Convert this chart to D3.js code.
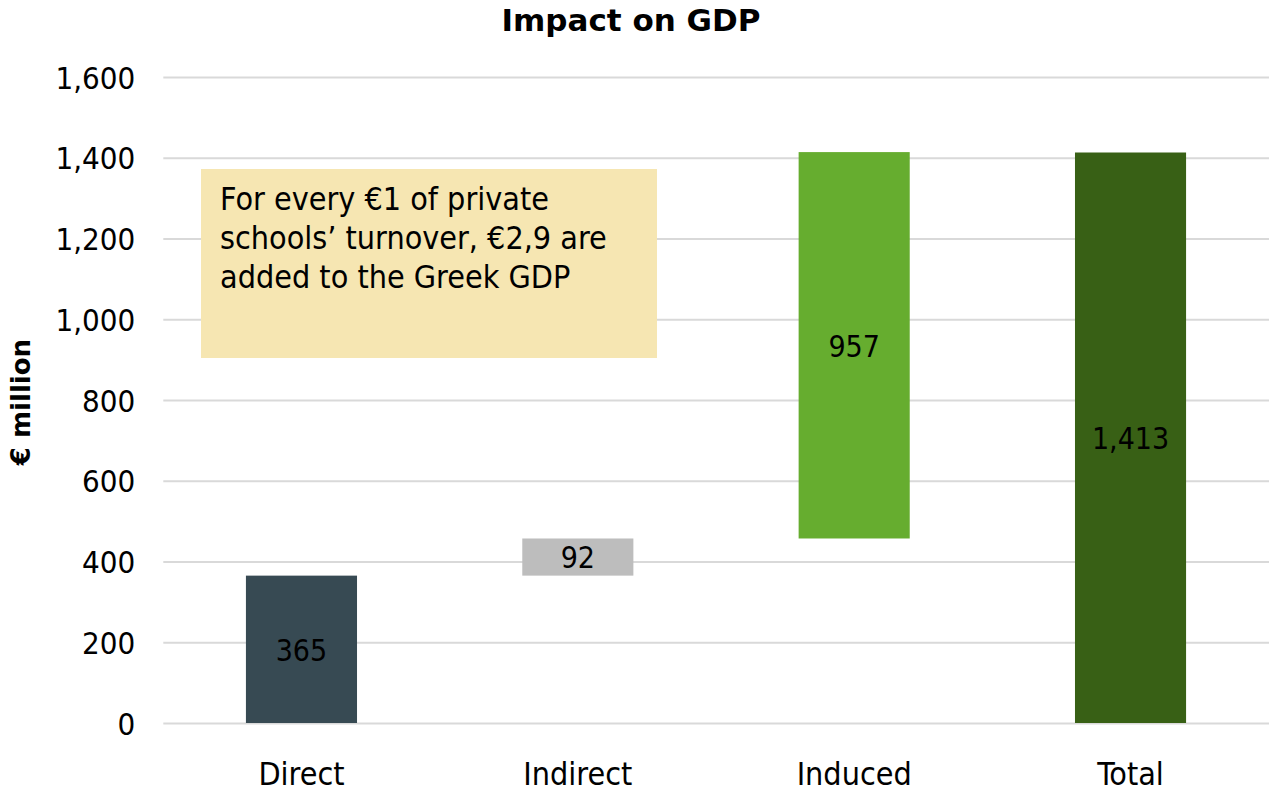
<!DOCTYPE html>
<html>
<head>
<meta charset="utf-8">
<script src="https://cdn.jsdelivr.net/npm/d3@7/dist/d3.min.js"></script>
<style>
  html, body { margin: 0; padding: 0; background: #fff; }
  svg { display: block; }
  .cond { font-family: "DejaVu Sans Condensed", "DejaVu Sans", sans-serif; font-stretch: condensed; }
  .bold { font-family: "DejaVu Sans", sans-serif; font-weight: bold; }
</style>
</head>
<body>
<svg id="chart" width="1269" height="792"></svg>
<script>
// ---- data ----
const categories = ["Direct", "Indirect", "Induced", "Total"];
const values = [365, 92, 957, 1413];
const isTotal = [false, false, false, true];
const yTicks = [0, 200, 400, 600, 800, 1000, 1200, 1400, 1600];
const titleText = "Impact on GDP";
const yAxisTitle = "€ million";
const noteLines = ["For every €1 of private", "schools’ turnover, €2,9 are", "added to the Greek GDP"];

// ---- styles ----
const barColors = ["#374a53", "#bdbdbd", "#66ad2f", "#386015"];

const W = 1269, H = 792;
const plot = { left: 163.3, right: 1268.7, top: 77, bottom: 723 };

const svg = d3.select("#chart");

// waterfall bases (running total of previous increments; totals start at 0)
let running = 0;
const bars = categories.map((c, i) => {
  let base;
  if (isTotal[i]) { base = 0; }
  else { base = running; running += values[i]; }
  return { cat: c, value: values[i], base: base, top: base + values[i], color: barColors[i] };
});

const x = d3.scaleBand().domain(categories)
  .range([plot.left, plot.right]).paddingInner(0.598).paddingOuter(0.299);
const y = d3.scaleLinear().domain([0, 1600]).range([plot.bottom, plot.top]);

// gridlines + y tick labels
const yAxisG = svg.append("g")
  .attr("transform", `translate(${plot.left},0)`)
  .call(d3.axisLeft(y).tickValues(yTicks).tickFormat(d3.format(",")).tickSize(-(W - plot.left)).tickPadding(28));
yAxisG.select(".domain").remove();
yAxisG.selectAll(".tick line").attr("stroke", "#d9d9d9").attr("stroke-width", 2);
yAxisG.selectAll(".tick text")
  .attr("class", "cond")
  .attr("font-size", 31)
  .attr("fill", "#000")
  .attr("dy", "0.36em");

// annotation box
const note = svg.append("g");
note.append("rect")
  .attr("x", 201).attr("y", 169).attr("width", 456).attr("height", 189)
  .attr("fill", "#f6e6b2");
note.selectAll("text").data(noteLines).join("text")
  .attr("class", "cond")
  .attr("x", 220)
  .attr("y", (d, i) => 210 + i * 39)
  .attr("font-size", 32)
  .attr("fill", "#000")
  .text(d => d);

// bars
svg.append("g").selectAll("rect").data(bars).join("rect")
  .attr("x", d => x(d.cat))
  .attr("width", x.bandwidth())
  .attr("y", d => y(d.top))
  .attr("height", d => y(d.base) - y(d.top))
  .attr("fill", d => d.color);

// value labels
svg.append("g").selectAll("text").data(bars).join("text")
  .attr("class", "cond")
  .attr("x", d => x(d.cat) + x.bandwidth() / 2)
  .attr("y", d => (y(d.base) + y(d.top)) / 2)
  .attr("dy", "0.38em")
  .attr("text-anchor", "middle")
  .attr("font-size", 30)
  .attr("fill", "#000")
  .text(d => d3.format(",")(d.value));

// category axis labels
const xAxisG = svg.append("g")
  .attr("transform", `translate(0,${plot.bottom})`)
  .call(d3.axisBottom(x).tickSize(0).tickPadding(0));
xAxisG.select(".domain").remove();
xAxisG.selectAll(".tick text")
  .attr("class", "cond")
  .attr("font-size", 32)
  .attr("fill", "#000")
  .attr("dy", null)
  .attr("y", 62);

// title
svg.append("text")
  .attr("class", "bold")
  .attr("x", 631).attr("y", 31)
  .attr("text-anchor", "middle")
  .attr("font-size", 31)
  .attr("fill", "#000")
  .text(titleText);

// y axis title
svg.append("text")
  .attr("class", "bold")
  .attr("transform", "translate(30,402) rotate(-90)")
  .attr("text-anchor", "middle")
  .attr("font-size", 26)
  .attr("fill", "#000")
  .text(yAxisTitle);
</script>
</body>
</html>
